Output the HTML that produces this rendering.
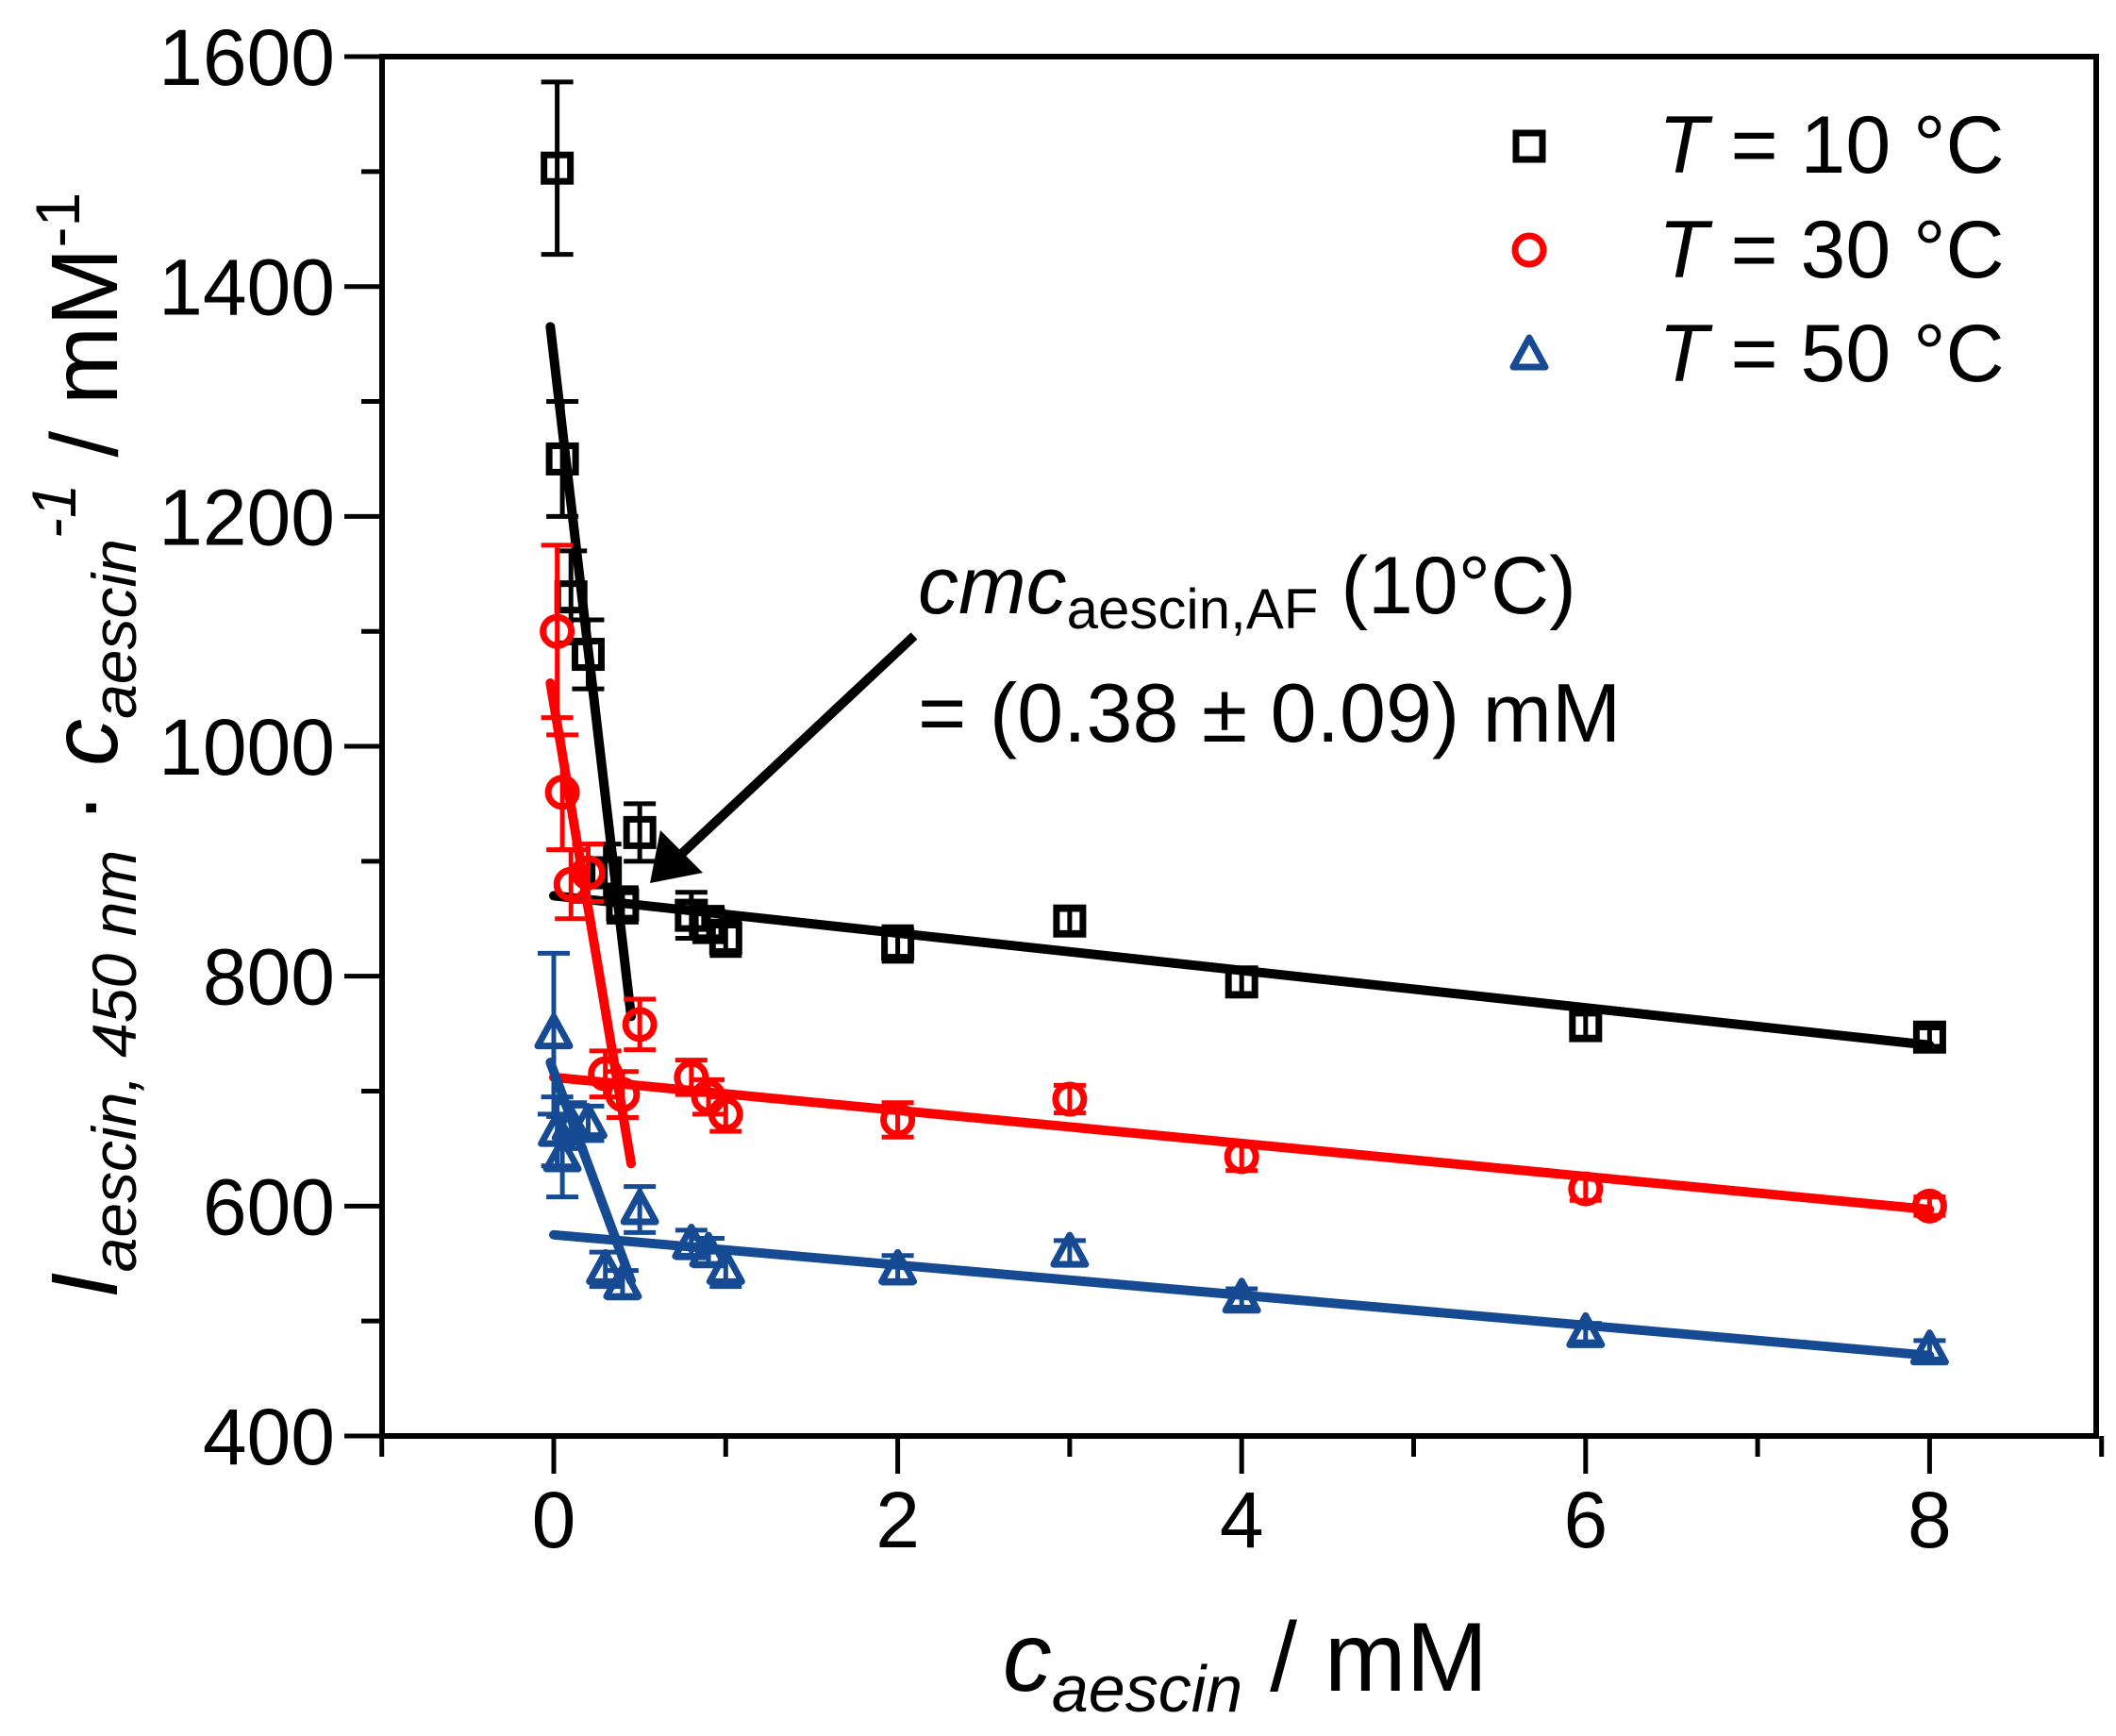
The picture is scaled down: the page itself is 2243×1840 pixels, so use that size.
<!DOCTYPE html>
<html><head><meta charset="utf-8"><style>html,body{margin:0;padding:0;background:#fff}svg{display:block}</style></head>
<body>
<svg id="s" xmlns="http://www.w3.org/2000/svg" width="2243" height="1840" viewBox="0 0 2243 1840" font-family="Liberation Sans, sans-serif">
<rect width="2243" height="1840" fill="#fff"/>
<g id="g"></g>
<text x="973" y="650" font-size="86"><tspan font-style="italic">cmc</tspan><tspan font-size="60" dy="16">aescin,AF</tspan><tspan dy="-16"> (10°C)</tspan></text>
<text x="973" y="786" font-size="88">= (0.38 ± 0.09) mM</text>
<text x="1758" y="183" font-size="86"><tspan font-style="italic">T</tspan> = 10 °C</text>
<text x="1758" y="294" font-size="86"><tspan font-style="italic">T</tspan> = 30 °C</text>
<text x="1758" y="404" font-size="86"><tspan font-style="italic">T</tspan> = 50 °C</text>
<text x="1320" y="1792" font-size="104" text-anchor="middle"><tspan font-style="italic">c</tspan><tspan font-style="italic" font-size="70" dy="22">aescin</tspan><tspan dy="-22"> / mM</tspan></text>
<text transform="translate(124,790) rotate(-90)" font-size="100" text-anchor="middle"><tspan font-style="italic">I</tspan><tspan font-style="italic" font-size="66" dy="20">aescin, 450 nm</tspan><tspan dy="-20"> · </tspan><tspan font-style="italic">c</tspan><tspan font-style="italic" font-size="66" dy="20">aescin</tspan><tspan font-style="italic" font-size="66" dy="-64">-1</tspan><tspan dy="44"> / mM</tspan><tspan font-size="66" dy="-40">-1</tspan></text>
</svg>
<script>
const g=document.getElementById('g');
const X=x=>587+x*182.3, Y=y=>1522-(y-400)*1.2183;
let h='';
h+=`<rect x="405" y="60" width="1817" height="1462" fill="none" stroke="#000" stroke-width="6"/>`;
for(let v=400;v<=1600;v+=100){const y=Y(v);const L=v%200==0?40:22;h+=`<line x1="${405-L}" y1="${y}" x2="405" y2="${y}" stroke="#000" stroke-width="5"/>`;if(v%200==0)h+=`<text x="355" y="${y+30}" font-size="84" text-anchor="end">${v}</text>`;}
for(let v=-1;v<=9;v++){const x=X(v);const L=v%2==0?40:22;h+=`<line x1="${x}" y1="1522" x2="${x}" y2="${1522+L}" stroke="#000" stroke-width="5"/>`;if(v%2==0&&v>=0)h+=`<text x="${x}" y="1640" font-size="84" text-anchor="middle">${v}</text>`;}
const S=[
{c:'#000',m:'s',d:[[0.02,1503,75],[0.05,1250,50],[0.1,1130,40],[0.2,1080,30],[0.3,890,25],[0.4,862,15],[0.5,925,25],[0.8,853,20],[0.9,845,15],[1,833,15],[2,828,15],[3,848,10],[4,795,10],[6,757,10],[8,747,8]],l:[[-0.02,1365,0.45,765],[0,870,8,740]]},
{c:'#f00',m:'c',d:[[0.02,1100,75],[0.05,960,50],[0.1,880,30],[0.2,890,25],[0.3,715,20],[0.4,697,20],[0.5,758,22],[0.8,712,15],[0.9,695,15],[1,680,15],[2,675,15],[3,693,12],[4,643,12],[6,615,10],[8,600,8]],l:[[-0.02,1055,0.45,637],[0,712,8,597]]},
{c:'#164b94',m:'t',d:[[0.0,750,70],[0.02,665,30],[0.05,643,35],[0.1,670,20],[0.2,672,15],[0.3,545,15],[0.4,532,12],[0.5,597,20],[0.8,567,12],[0.9,560,12],[1,545,15],[2,545,12],[3,560,10],[4,520,8],[6,490,8],[8,475,8]],l:[[-0.02,725,0.45,535],[0,575,8,470]]}];
function mk(m,x,y,c){if(m=='s')return `<rect x="${x-14}" y="${y-14}" width="28" height="28" fill="none" stroke="${c}" stroke-width="7"/>`;if(m=='c')return `<circle cx="${x}" cy="${y}" r="15" fill="none" stroke="${c}" stroke-width="7"/>`;return `<polygon points="${x},${y-18} ${x+17},${y+13} ${x-17},${y+13}" fill="none" stroke="${c}" stroke-width="7" stroke-linejoin="round"/>`;}
S.forEach((s,i)=>{
s.d.forEach(([x,y,e])=>{const px=X(x),t=Y(y+e),b=Y(y-e);h+=`<line x1="${px}" y1="${t}" x2="${px}" y2="${b}" stroke="${s.c}" stroke-width="5"/><line x1="${px-17}" y1="${t}" x2="${px+17}" y2="${t}" stroke="${s.c}" stroke-width="5"/><line x1="${px-17}" y1="${b}" x2="${px+17}" y2="${b}" stroke="${s.c}" stroke-width="5"/>`+mk(s.m,px,Y(y),s.c);});
s.l.forEach(([a,b,c,d])=>{h+=`<line x1="${X(a)}" y1="${Y(b)}" x2="${X(c)}" y2="${Y(d)}" stroke="${s.c}" stroke-width="10" stroke-linecap="round"/>`;});
h+=mk(s.m,1621,[155,265,376][i],s.c);
});
h+=`<line x1="969" y1="674" x2="715" y2="912" stroke="#000" stroke-width="10"/><polygon points="689,936 700,880 745,925" fill="#000"/>`;
g.innerHTML=h;
</script>
</body></html>
